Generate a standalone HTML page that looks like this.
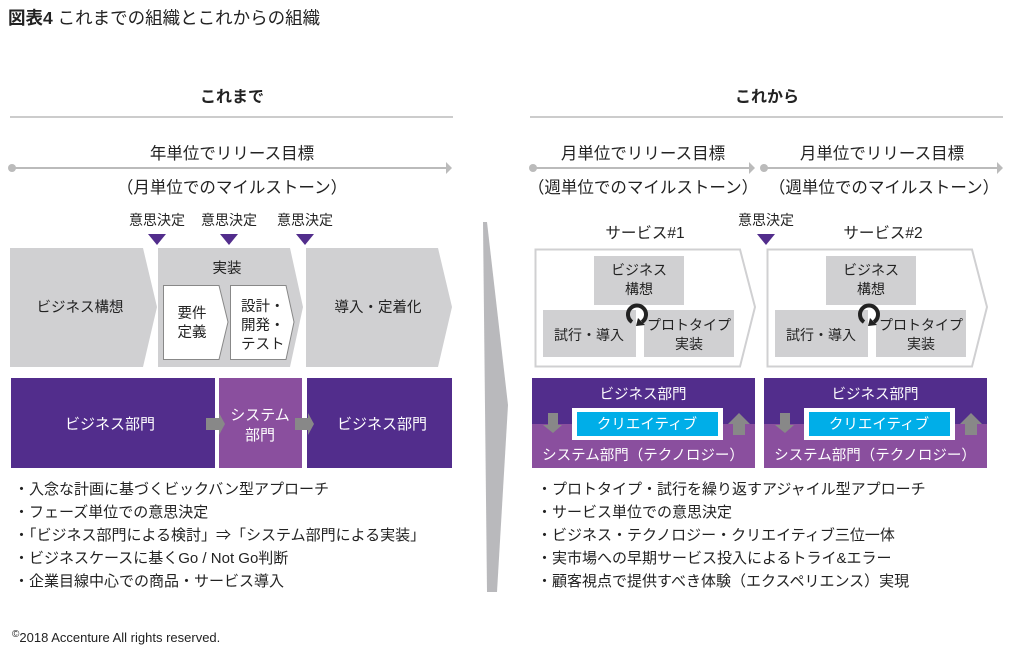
<!DOCTYPE html>
<html><head><meta charset="utf-8"><style>
html,body{margin:0;padding:0;background:#fff;}
svg{display:block;}
text{font-family:"Liberation Sans","Noto Sans CJK JP",sans-serif;fill:#222;}
text.w{fill:#fff;}
</style></head><body>
<svg width="1015" height="656" viewBox="0 0 1015 656" xmlns="http://www.w3.org/2000/svg">
<text x="8" y="24" font-size="17.5"><tspan font-weight="bold">図表4</tspan> これまでの組織とこれからの組織</text>

<text x="232" y="102" font-size="16" font-weight="bold" text-anchor="middle">これまで</text>
<line x1="10" y1="117" x2="453" y2="117" stroke="#bbb" stroke-width="1.5"/>
<text x="767" y="102" font-size="16" font-weight="bold" text-anchor="middle">これから</text>
<line x1="530" y1="117" x2="1003" y2="117" stroke="#bbb" stroke-width="1.5"/>

<text x="232" y="159" font-size="16.5" text-anchor="middle">年単位でリリース目標</text>
<circle cx="12" cy="168" r="4" fill="#bbb"/>
<line x1="12" y1="168" x2="447" y2="168" stroke="#bbb" stroke-width="2"/>
<polygon points="446,162 452,168 446,174" fill="#bbb"/>
<text x="232" y="193" font-size="16.5" text-anchor="middle">（月単位でのマイルストーン）</text>

<g font-size="14" text-anchor="middle">
<text x="157" y="225">意思決定</text>
<text x="229" y="225">意思決定</text>
<text x="305" y="225">意思決定</text>
</g>
<g fill="#522d8c">
<polygon points="148,234 166,234 157,245"/>
<polygon points="220,234 238,234 229,245"/>
<polygon points="296,234 314,234 305,245"/>
</g>

<g fill="#d0d0d2">
<polygon points="10,248 143,248 157,307 143,367 10,367"/>
<polygon points="158,248 290,248 303,307 290,367 158,367"/>
<polygon points="306,248 438,248 452,307 438,367 306,367"/>
</g>
<g fill="#fff" stroke="#888" stroke-width="1">
<polygon points="163.5,285.5 219,285.5 228,322 219,359.5 163.5,359.5"/>
<polygon points="230.5,285.5 286,285.5 294,322 286,359.5 230.5,359.5"/>
</g>
<g font-size="14.5">
<text x="80" y="312" text-anchor="middle">ビジネス構想</text>
<text x="227" y="273" text-anchor="middle">実装</text>
<text x="192" y="318" text-anchor="middle">要件</text>
<text x="192" y="337" text-anchor="middle">定義</text>
<text x="241" y="311">設計・</text>
<text x="241" y="330">開発・</text>
<text x="241" y="349">テスト</text>
<text x="378" y="312" text-anchor="middle">導入・定着化</text>
</g>

<rect x="11" y="378" width="204" height="90" fill="#522d8c"/>
<rect x="219" y="378" width="83" height="90" fill="#8a4f9e"/>
<rect x="307" y="378" width="145" height="90" fill="#522d8c"/>
<g fill="#888">
<polygon points="206,418 219,418 219,413 225,424 219,435 219,430 206,430"/>
<polygon points="295,418 308,418 308,413 314,424 308,435 308,430 295,430"/>
</g>
<g font-size="15" text-anchor="middle">
<text class="w" x="110" y="429">ビジネス部門</text>
<text class="w" x="260" y="420">システム</text>
<text class="w" x="260" y="440">部門</text>
<text class="w" x="382" y="429">ビジネス部門</text>
</g>

<g font-size="15">
<text x="14" y="494">・入念な計画に基づくビックバン型アプローチ</text>
<text x="14" y="517">・フェーズ単位での意思決定</text>
<text x="14" y="540">・「ビジネス部門による検討」⇒「システム部門による実装」</text>
<text x="14" y="563">・ビジネスケースに基くGo / Not Go判断</text>
<text x="14" y="586">・企業目線中心での商品・サービス導入</text>
</g>

<polygon points="483,222 487,222 508,405 497,592 487,592" fill="#b9b9bc"/>

<text x="643" y="159" font-size="16.5" text-anchor="middle">月単位でリリース目標</text>
<circle cx="533" cy="168" r="4" fill="#bbb"/>
<line x1="533" y1="168" x2="750" y2="168" stroke="#bbb" stroke-width="2"/>
<polygon points="749,162 755,168 749,174" fill="#bbb"/>
<text x="643" y="193" font-size="16.5" text-anchor="middle">（週単位でのマイルストーン）</text>
<text x="882" y="159" font-size="16.5" text-anchor="middle">月単位でリリース目標</text>
<circle cx="764" cy="168" r="4" fill="#bbb"/>
<line x1="764" y1="168" x2="998" y2="168" stroke="#bbb" stroke-width="2"/>
<polygon points="997,162 1003,168 997,174" fill="#bbb"/>
<text x="884" y="193" font-size="16.5" text-anchor="middle">（週単位でのマイルストーン）</text>

<text x="766" y="225" font-size="14" text-anchor="middle">意思決定</text>
<polygon points="757,234 775,234 766,245" fill="#522d8c"/>
<text x="645" y="238" font-size="15.5" text-anchor="middle">サービス#1</text>
<text x="883" y="238" font-size="15.5" text-anchor="middle">サービス#2</text>

<g id="svc">
<polygon points="535.5,249.5 740,249.5 755,307 740,366.5 535.5,366.5" fill="#fff" stroke="#d0d0d2" stroke-width="2"/>
<rect x="594" y="256" width="90" height="49" fill="#d0d0d2"/>
<rect x="543" y="310" width="93" height="47" fill="#d0d0d2"/>
<rect x="644" y="310" width="90" height="47" fill="#d0d0d2"/>
<path d="M632,322 A9,9 0 1 1 642,322" fill="none" stroke="#222" stroke-width="4"/>
<polygon points="638,318 645,325 636,326" fill="#222"/>
<g font-size="14" text-anchor="middle">
<text x="639" y="275">ビジネス</text>
<text x="639" y="294">構想</text>
<text x="589" y="340">試行・導入</text>
<text x="689" y="330">プロトタイプ</text>
<text x="689" y="349">実装</text>
</g>
<rect x="532" y="378" width="223" height="46" fill="#522d8c"/>
<rect x="532" y="424" width="223" height="44" fill="#8a4f9e"/>
<rect x="572" y="408" width="151" height="32" fill="#fff"/>
<rect x="577" y="412" width="141" height="24" fill="#00aee8"/>
<polygon points="548,413 558,413 558,425 562,425 553,433 543,425 548,425" fill="#888"/>
<polygon points="733,435 745,435 745,424 750,424 739,413 728,424 733,424" fill="#888"/>
<g font-size="14.5" text-anchor="middle">
<text class="w" x="643" y="399">ビジネス部門</text>
<text class="w" x="647" y="429">クリエイティブ</text>
<text class="w" x="643" y="460">システム部門（テクノロジー）</text>
</g>
</g>
<use href="#svc" x="232" y="0"/>

<g font-size="15">
<text x="537" y="494">・プロトタイプ・試行を繰り返すアジャイル型アプローチ</text>
<text x="537" y="517">・サービス単位での意思決定</text>
<text x="537" y="540">・ビジネス・テクノロジー・クリエイティブ三位一体</text>
<text x="537" y="563">・実市場への早期サービス投入によるトライ&amp;エラー</text>
<text x="537" y="586">・顧客視点で提供すべき体験（エクスペリエンス）実現</text>
</g>

<text x="12" y="642" font-size="13"><tspan font-size="10" dy="-5">©</tspan><tspan dy="5">2018 Accenture All rights reserved.</tspan></text>
</svg>
</body></html>
